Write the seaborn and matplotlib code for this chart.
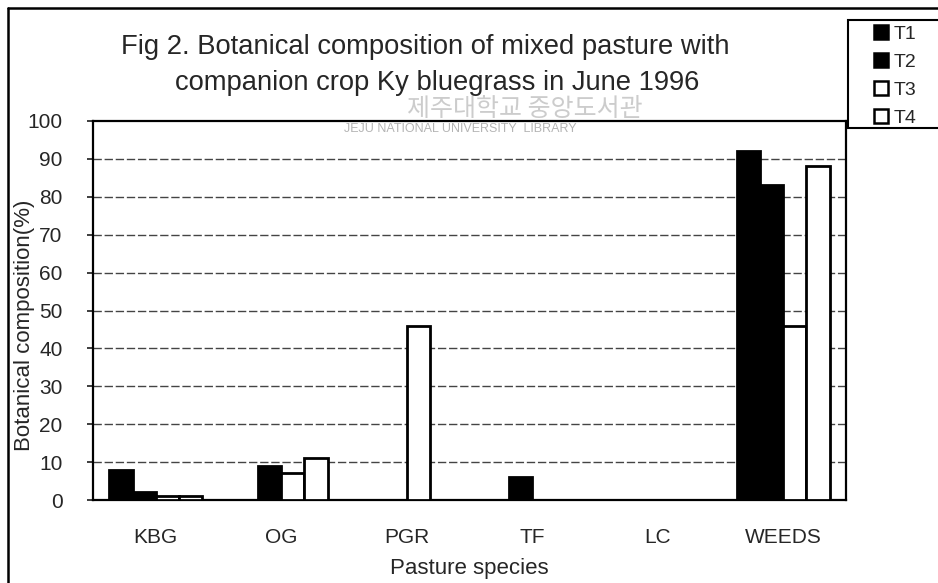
import matplotlib
matplotlib.use("Agg")
import matplotlib.pyplot as plt
from matplotlib.lines import Line2D
from matplotlib.patches import Patch, Rectangle
import pandas as pd
import seaborn as sns

species = ["KBG", "OG", "PGR", "TF", "LC", "WEEDS"]
treatments = ["T1", "T2", "T3", "T4"]
t1 = [8, 0, 0, 0, 0, 92]
t2 = [2, 9, 0, 6, 0, 83]
t3 = [1, 7, 46, 0, 0, 46]
t4 = [1, 11, 0, 0, 0, 88]
yticks = list(range(0, 101, 10))

rows = []
for t, vals in zip(treatments, [t1, t2, t3, t4]):
    for s, v in zip(species, vals):
        rows.append({"species": s, "treatment": t, "value": v})
df = pd.DataFrame(rows)

sns.set_theme(style="white")
plt.rcParams["font.family"] = ["Liberation Sans", "DejaVu Sans"]

W, H = 938, 583
fig = plt.figure(figsize=(W / 100, H / 100), dpi=100)
ax = fig.add_axes([93 / W, 1 - 500 / H, (846 - 93) / W, (500 - 121) / H])
ax.patch.set_alpha(0)

pal = {"T1": "black", "T2": "black", "T3": "white", "T4": "white"}
sns.barplot(data=df, x="species", y="value", hue="treatment", hue_order=treatments,
            order=species, palette=pal, saturation=1, width=0.74, gap=0,
            edgecolor="black", linewidth=2.0, legend=False, ax=ax, zorder=3)

ax.set_ylim(0, 100)
ax.set_yticks(yticks)
ax.set_yticklabels([str(v) for v in yticks], fontsize=15)
ax.tick_params(axis="x", labelsize=15, length=0, pad=20)
ax.tick_params(axis="y", length=4, direction="out", left=True, pad=18)
for v in yticks[1:-1]:
    ax.axhline(v, color="#444444", lw=1.0, ls=(0, (6, 2)), zorder=1)
for sp in ax.spines.values():
    sp.set_color("black")
    sp.set_linewidth(1.6)
ax.set_xlabel("Pasture species", fontsize=16, labelpad=8)
ax.set_ylabel("Botanical composition(%)", fontsize=16, va="center")
ax.yaxis.set_label_coords(-(93 - 25) / (846 - 93), 0.46)

# watermark (faint scan stamp)
fig.text(525 / W, 1 - 109 / H, "제주대학교 중앙도서관", fontsize=18, color="#cccccc",
         ha="center", va="center", family=["Noto Sans CJK KR"], zorder=-1)
fig.text(460 / W, 1 - 129 / H, "JEJU NATIONAL UNIVERSITY  LIBRARY", fontsize=9,
         color="#b4b4b4", ha="center", va="center", zorder=-1)

fig.text(425 / W, 1 - 47 / H, "Fig 2. Botanical composition of mixed pasture with",
         fontsize=19.7, ha="center", va="center")
fig.text(437 / W, 1 - 83 / H, "companion crop Ky bluegrass in June 1996",
         fontsize=19.7, ha="center", va="center")

# outer frame
fig.add_artist(Line2D([8 / W, 1], [1 - 8 / H, 1 - 8 / H], color="black", lw=1.8))
fig.add_artist(Line2D([8 / W, 8 / W], [0, 1 - 8 / H], color="black", lw=1.8))

# legend box
fig.add_artist(Rectangle((848 / W, 1 - 128 / H), 100 / W, 108 / H,
                         transform=fig.transFigure, facecolor="white",
                         edgecolor="black", lw=1.5, clip_on=False))
handles = [Patch(facecolor=pal[t], edgecolor="black", linewidth=1.8, label=t) for t in treatments]
leg = fig.legend(handles=handles, loc="upper left", bbox_to_anchor=(870 / W, 1 - 21 / H),
                 fontsize=14, frameon=False, handlelength=0.75, handleheight=0.75,
                 handletextpad=0.25, labelspacing=0.52, borderpad=0.2, borderaxespad=0)

fig.savefig("out.png", dpi=100)
